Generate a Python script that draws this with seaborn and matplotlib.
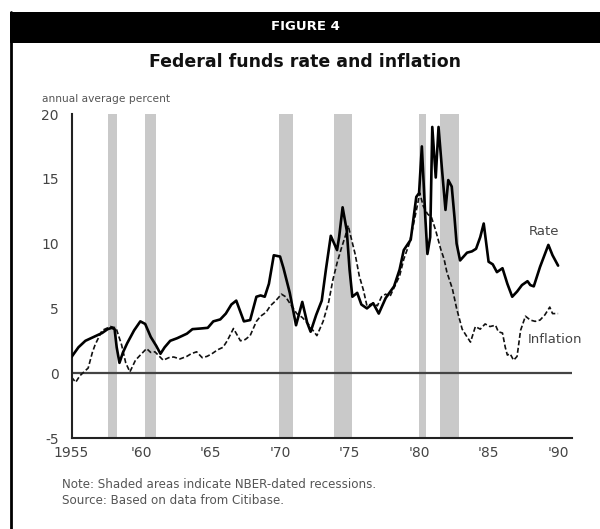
import matplotlib
matplotlib.use("Agg")
import matplotlib.pyplot as plt
from matplotlib.patches import Rectangle
from matplotlib.lines import Line2D
from matplotlib.ticker import MultipleLocator
import seaborn as sns
import pandas as pd

# ---------------- data ----------------
rate_year = [1955.0, 1955.5, 1956.0, 1956.6, 1957.2, 1957.6, 1957.9, 1958.1, 1958.25, 1958.45,
             1958.7, 1959.0, 1959.5, 1959.95, 1960.3, 1960.7, 1961.1, 1961.4, 1961.7, 1962.1,
             1962.6, 1963.3, 1963.7, 1964.3, 1964.8, 1965.2, 1965.7, 1966.1, 1966.5, 1966.85,
             1967.4, 1967.85, 1968.3, 1968.6, 1968.9, 1969.2, 1969.55, 1970.0, 1970.25, 1970.7,
             1971.15, 1971.6, 1971.95, 1972.2, 1972.6, 1973.0, 1973.3, 1973.65, 1974.1, 1974.25,
             1974.5, 1974.8, 1975.0, 1975.2, 1975.55, 1975.85, 1976.25, 1976.7, 1977.1, 1977.6,
             1978.2, 1978.6, 1978.9, 1979.4, 1979.8, 1980.0, 1980.2, 1980.45, 1980.6, 1980.8,
             1980.95, 1981.2, 1981.4, 1981.65, 1981.9, 1982.1, 1982.35, 1982.55, 1982.7, 1982.95,
             1983.45, 1983.8, 1984.1, 1984.4, 1984.65, 1985.0, 1985.3, 1985.6, 1986.0, 1986.35,
             1986.7, 1987.05, 1987.4, 1987.8, 1988.0, 1988.25, 1988.7, 1989.3, 1989.6, 1990.0]
rate_value = [1.25, 2.0, 2.5, 2.8, 3.1, 3.4, 3.5, 3.4, 2.0, 0.8,
              1.6, 2.3, 3.3, 4.0, 3.8, 2.8, 2.1, 1.5, 2.0, 2.5,
              2.7, 3.05, 3.4, 3.45, 3.5, 4.0, 4.15, 4.6, 5.3, 5.6,
              4.0, 4.1, 5.9, 6.0, 5.9, 6.9, 9.1, 9.0, 8.1, 6.2,
              3.7, 5.5, 3.9, 3.2, 4.5, 5.6, 8.0, 10.6, 9.5, 10.5,
              12.8, 11.0, 8.0, 5.9, 6.2, 5.3, 5.0, 5.4, 4.6, 5.8,
              6.7, 8.0, 9.5, 10.3, 13.6, 13.9, 17.5, 12.0, 9.2, 10.5,
              19.0, 15.1, 19.0, 15.7, 12.6, 14.9, 14.4, 12.0, 10.0, 8.7,
              9.3, 9.4, 9.6, 10.5, 11.55, 8.6, 8.4, 7.8, 8.1, 6.9,
              5.9, 6.3, 6.8, 7.1, 6.8, 6.7, 8.2, 9.9, 9.1, 8.3]

infl_year = [1955.0, 1955.3, 1955.6, 1955.9, 1956.2, 1956.5, 1956.7, 1957.2, 1957.8, 1958.2,
             1958.6, 1958.9, 1959.2, 1959.6, 1959.95, 1960.4, 1960.7, 1961.0, 1961.6, 1962.0,
             1962.35, 1962.8, 1963.3, 1963.6, 1964.0, 1964.4, 1964.75, 1965.1, 1965.5, 1965.9,
             1966.2, 1966.65, 1967.15, 1967.5, 1967.85, 1968.3, 1968.6, 1969.0, 1969.3, 1969.7,
             1970.1, 1970.4, 1970.7, 1971.2, 1971.6, 1971.95, 1972.3, 1972.65, 1973.1, 1973.5,
             1973.8, 1974.1, 1974.4, 1974.7, 1974.9, 1975.1, 1975.4, 1975.7, 1976.0, 1976.25,
             1976.7, 1977.0, 1977.3, 1977.6, 1977.9, 1978.2, 1978.6, 1978.9, 1979.3, 1979.6,
             1979.85, 1980.05, 1980.3, 1980.6, 1980.9, 1981.2, 1981.55, 1981.8, 1982.0, 1982.4,
             1982.7, 1983.1, 1983.45, 1983.7, 1984.05, 1984.4, 1984.75, 1985.1, 1985.5, 1985.7,
             1986.0, 1986.2, 1986.35, 1986.55, 1986.8, 1987.05, 1987.3, 1987.65, 1988.0, 1988.35,
             1988.7, 1989.05, 1989.4, 1989.6, 1990.0]
infl_value = [-0.3, -0.7, -0.2, 0.1, 0.4, 1.6, 2.2, 3.3, 3.6, 3.5,
              2.2, 0.8, 0.1, 1.0, 1.4, 1.9, 1.6, 1.65, 1.0, 1.2,
              1.25, 1.1, 1.3, 1.5, 1.65, 1.2, 1.3, 1.5, 1.8, 2.0,
              2.5, 3.45, 2.5, 2.6, 2.9, 4.0, 4.4, 4.7, 5.2, 5.6,
              6.1, 5.9, 5.4, 4.6, 4.3, 3.9, 3.4, 2.9, 4.0, 5.5,
              7.2, 8.5, 9.6, 10.6, 11.4, 10.5, 9.2, 7.5, 6.4, 5.2,
              5.4, 5.2, 5.9, 6.1, 5.9, 6.6, 7.5, 8.8, 10.0, 11.5,
              12.8, 13.9, 12.9, 12.3, 12.0, 11.0, 9.6, 8.8, 7.8, 6.5,
              5.0, 3.4, 2.8, 2.4, 3.6, 3.4, 3.8, 3.6, 3.7, 3.2,
              3.1, 2.0, 1.4, 1.5, 1.0, 1.3, 3.3, 4.4, 4.1, 4.0,
              4.1, 4.5, 5.1, 4.6, 4.6]

recession_start = [1957.6, 1960.3, 1969.9, 1973.9, 1980.0, 1981.5]
recession_end = [1958.3, 1961.1, 1970.9, 1975.2, 1980.5, 1982.9]

x_ticks = [1955, 1960, 1965, 1970, 1975, 1980, 1985, 1990]
x_tick_labels = ["1955", "'60", "'65", "'70", "'75", "'80", "'85", "'90"]
y_ticks = [-5, 0, 5, 10, 15, 20]

rate_df = pd.DataFrame({"year": rate_year, "value": rate_value})
infl_df = pd.DataFrame({"year": infl_year, "value": infl_value})

# ---------------- figure ----------------
sns.set_style("white")
plt.rcParams["font.family"] = ["DejaVu Sans"]

W, H = 600, 529
fig = plt.figure(figsize=(6.0, 5.29), dpi=100)
fig.patch.set_facecolor("white")

def fx(px):
    return px / W

def fy(py):
    return 1 - py / H

# header bar and left border
fig.patches.append(Rectangle((fx(10), fy(43)), fx(590), 31 / H, transform=fig.transFigure,
                             facecolor="black", edgecolor="none", zorder=0))
fig.lines.append(Line2D([fx(11), fx(11)], [0, fy(12)], transform=fig.transFigure,
                        color="black", lw=2))
fig.text(fx(305), fy(27), "FIGURE 4", color="white", fontsize=9.5, fontweight="bold",
         ha="center", va="center")
fig.text(fx(305), fy(62), "Federal funds rate and inflation", color="#111111", fontsize=12.5,
         fontweight="bold", ha="center", va="center")
fig.text(fx(42), fy(99), "annual average percent", color="#555555", fontsize=7.7,
         ha="left", va="center")
fig.text(fx(62), fy(484), "Note: Shaded areas indicate NBER-dated recessions.", color="#555555",
         fontsize=8.6, ha="left", va="center")
fig.text(fx(62), fy(500), "Source: Based on data from Citibase.", color="#555555",
         fontsize=8.6, ha="left", va="center")

ax = fig.add_axes([fx(71.5), fy(438), fx(572) - fx(71.5), fy(114) - fy(438)])
ax.set_facecolor("none")

for s, e in zip(recession_start, recession_end):
    ax.axvspan(s, e, color="#c9c9c9", lw=0, zorder=0)

ax.axhline(0, color="#444444", lw=1.6, zorder=1)

sns.lineplot(data=infl_df, x="year", y="value", ax=ax, color="#111111", lw=1.2,
             linestyle=(0, (3, 1.5)), sort=False, zorder=2)
sns.lineplot(data=rate_df, x="year", y="value", ax=ax, color="#000000", lw=1.9,
             sort=False, zorder=3)

ax.set_xlim(1955, 1991)
ax.set_ylim(-5, 20)
ax.set_xlabel("")
ax.set_ylabel("")
ax.set_xticks(x_ticks)
ax.set_xticklabels(x_tick_labels)
ax.xaxis.set_minor_locator(MultipleLocator(1))
ax.set_yticks(y_ticks)
ax.set_yticklabels([str(v) for v in y_ticks])

for side in ["top", "right"]:
    ax.spines[side].set_visible(False)
for side in ["left", "bottom"]:
    ax.spines[side].set_color("#222222")
    ax.spines[side].set_linewidth(1.5)

ax.tick_params(axis="x", which="both", direction="in", length=4, width=1, color="#333333",
               labelsize=10, labelcolor="#444444", pad=6)
ax.tick_params(axis="y", which="both", direction="in", length=5, width=1, color="#333333",
               labelsize=10, labelcolor="#444444", pad=9)
ax.tick_params(axis="y", which="minor", left=False)

ax.text(1989.0, 10.9, "Rate", fontsize=9.5, color="#444444", ha="center", va="center")
ax.text(1989.8, 2.6, "Inflation", fontsize=9.5, color="#444444", ha="center", va="center")

fig.savefig("out.png", dpi=100, facecolor="white")
